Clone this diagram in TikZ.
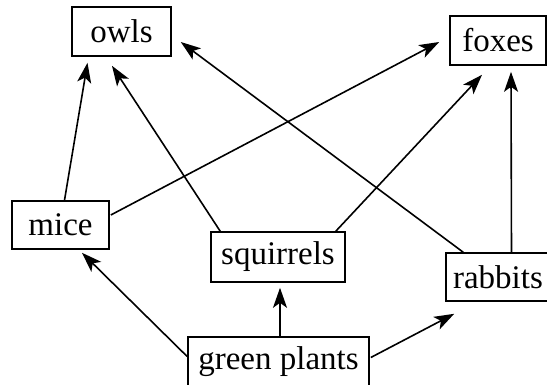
\documentclass[tikz,border=0pt]{standalone}
\usepackage{fontspec}
\setmainfont{Liberation Serif}
\usetikzlibrary{arrows.meta,calc}
\begin{document}
\begin{tikzpicture}[x=1pt,y=-1pt,
  box/.style={draw,line width=1.6pt,inner sep=0pt,font=\fontsize{33}{38}\selectfont},
  arr/.style={line width=1.6pt,-{Stealth[length=20pt,width=14pt,inset=5pt]}}]
\useasboundingbox (0,0) rectangle (547,384);
\node[box,minimum width=99pt,minimum height=49pt] (owls) at (121.5,31.5) {owls};
\node[box,minimum width=96pt,minimum height=49pt] (foxes) at (498,40.5) {foxes};
\node[box,minimum width=97pt,minimum height=48pt] (mice) at (60.5,225) {mice};
\node[box,minimum width=134pt,minimum height=50pt] (squirrels) at (278,257) {squirrels};
\node[box,minimum width=104pt,minimum height=48pt] (rabbits) at (498,277) {rabbits};
\node[box,minimum width=181pt,minimum height=50pt] (plants) at (278.5,362) {green plants};
\draw[arr] ($(mice.north)+(4,0)$) -- ($(owls.south)+(-34,6)$);
\draw[arr] ($(squirrels.north west)+(10,0)$) -- ($(owls.south)+(-9.5,9)$);
\draw[arr] ($(rabbits.north west)+(18,0)$) -- ($(owls.east)+(9,10.5)$);
\draw[arr] ($(mice.east)+(1,-10)$) -- ($(foxes.west)+(-10,1.5)$);
\draw[arr] ($(squirrels.north east)+(-10,0)$) -- ($(foxes.south)+(-16,9)$);
\draw[arr] ($(rabbits.north)+(13.5,0)$) -- ($(foxes.south)+(13,6)$);
\draw[arr] ($(plants.west)+(0,-5.5)$) -- ($(mice.south)+(21.5,3)$);
\draw[arr] ($(plants.north)+(1.5,0)$) -- ($(squirrels.south)+(2,5)$);
\draw[arr] ($(plants.east)+(1,-4.5)$) -- ($(rabbits.south west)+(9,12)$);
\end{tikzpicture}
\end{document}
